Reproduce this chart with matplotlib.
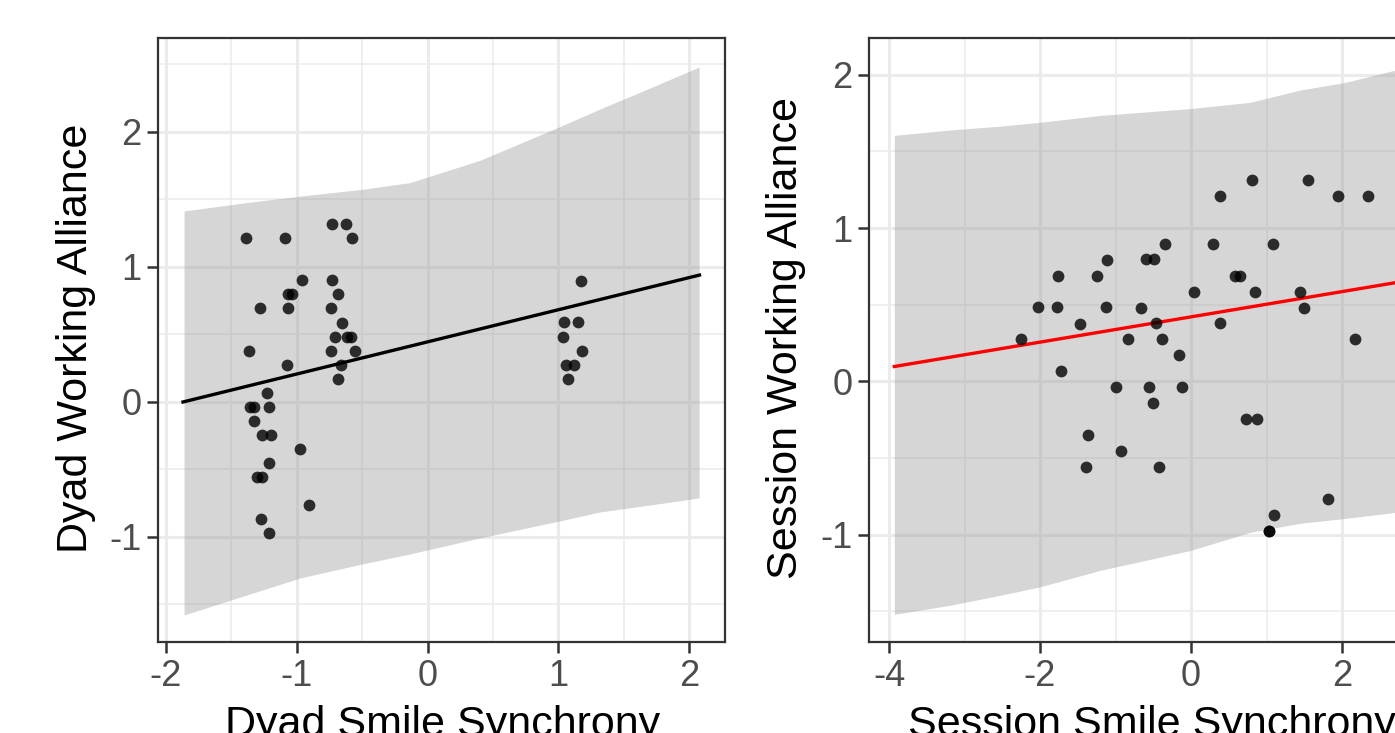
import numpy as np
import matplotlib
matplotlib.use("Agg")
import matplotlib.pyplot as plt
from matplotlib.ticker import MultipleLocator, FormatStrFormatter

plt.rcParams['font.family'] = ['Liberation Sans', 'DejaVu Sans']
plt.rcParams['axes.unicode_minus'] = False

# left panel: dyad level
dyad_x = [-1.386, -1.090, -0.733, -0.621, -0.575, -0.958, -0.733, -1.065, -1.039, -0.687,
          -1.281, -1.065, -0.738, -0.656, -0.707, -0.618, -0.585, -1.363, -0.738, -0.557,
          -1.077, -0.664, -0.687, -1.230, -1.358, -1.327, -1.212, -1.327, -1.263, -1.199,
          -0.975, -1.212, -1.302, -1.268, -0.904, -1.276, -1.212,
          1.174, 1.044, 1.153, 1.034, 1.182, 1.059, 1.120, 1.075]
dyad_y = [1.213, 1.213, 1.319, 1.319, 1.213, 0.901, 0.901, 0.798, 0.798, 0.798,
          0.694, 0.694, 0.694, 0.587, 0.484, 0.484, 0.484, 0.380, 0.380, 0.380,
          0.276, 0.276, 0.170, 0.069, -0.037, -0.037, -0.037, -0.139, -0.244, -0.244,
          -0.348, -0.454, -0.556, -0.556, -0.765, -0.869, -0.973,
          0.899, 0.590, 0.590, 0.484, 0.380, 0.274, 0.274, 0.173]
dyad_fit_x = [-1.87, 2.08]
dyad_fit_y = [0.0, 0.94]
dyad_band_x = [-1.862, -1.358, -0.975, -0.5, -0.134, 0.401, 1.013, 1.319, 1.702, 2.077]
dyad_band_hi = [1.415, 1.480, 1.525, 1.575, 1.625, 1.790, 2.040, 2.170, 2.326, 2.481]
dyad_band_lo = [-1.578, -1.422, -1.304, -1.200, -1.126, -1.007, -0.881, -0.815, -0.763, -0.711]

# right panel: session level
sess_x = [-1.109, -1.762, -1.245, -2.030, -1.779, -1.122, -1.470, -2.248, -0.830, -1.722,
          -0.993, -1.360, -0.927, -1.395, 0.808, 1.546, 0.380, 1.947, 2.344, -0.340,
          0.295, 1.090, -0.596, -0.490, 0.579, 0.649, 0.040, 0.848, 1.448, -0.662,
          1.493, -0.464, 0.388, -0.388, 2.168, -0.159, -0.560, -0.115, -0.499, 0.728,
          0.874, -0.420, 1.815, 1.099, 1.037, 1.037]
sess_y = [0.794, 0.690, 0.690, 0.483, 0.483, 0.483, 0.376, 0.274, 0.274, 0.065,
          -0.039, -0.352, -0.457, -0.559, 1.316, 1.316, 1.211, 1.211, 1.211, 0.898,
          0.898, 0.898, 0.796, 0.796, 0.690, 0.690, 0.585, 0.585, 0.585, 0.481,
          0.481, 0.378, 0.378, 0.274, 0.274, 0.170, -0.039, -0.039, -0.144, -0.248,
          -0.248, -0.561, -0.768, -0.872, -0.974, -0.974]
sess_fit_x = [-3.93, 3.0]
sess_fit_y = [0.097, 0.668]
sess_band_x = [-3.93, -3.19, -2.53, -2.0, -1.205, 0.0, 0.78, 1.44, 2.04, 2.70, 3.0]
sess_band_hi = [1.605, 1.640, 1.665, 1.690, 1.735, 1.780, 1.820, 1.900, 1.950, 2.030, 2.07]
sess_band_lo = [-1.520, -1.460, -1.396, -1.340, -1.233, -1.102, -0.985, -0.926, -0.894, -0.855, -0.84]

W, H = 1395, 733
fig = plt.figure(figsize=(W / 100, H / 100), dpi=100)

def panel(left_px, xlim, ylim, xmaj, ymaj):
    ax = fig.add_axes([left_px / W, (H - 642) / H, 567 / W, 604 / H])
    ax.set_xlim(*xlim)
    ax.set_ylim(*ylim)
    ax.xaxis.set_major_locator(MultipleLocator(xmaj))
    ax.xaxis.set_minor_locator(MultipleLocator(xmaj / 2))
    ax.yaxis.set_major_locator(MultipleLocator(ymaj))
    ax.yaxis.set_minor_locator(MultipleLocator(ymaj / 2))
    ax.xaxis.set_major_formatter(FormatStrFormatter('%d'))
    ax.yaxis.set_major_formatter(FormatStrFormatter('%d'))
    ax.set_axisbelow(True)
    ax.grid(which='major', color='#EBEBEB', lw=2.2)
    ax.grid(which='minor', color='#EBEBEB', lw=1.1)
    ax.tick_params(which='major', length=8, width=1.8, color='#333333',
                   labelsize=26, labelcolor='#4D4D4D', pad=4)
    ax.tick_params(which='minor', length=0)
    for s in ax.spines.values():
        s.set_color('#333333')
        s.set_linewidth(1.6)
    return ax

ax1 = panel(158, (-2.0612, 2.275), (-1.778, 2.696), 1, 1)
ax1.fill_between(dyad_band_x, dyad_band_lo, dyad_band_hi, color='#999999', alpha=0.4, lw=0, zorder=1)
ax1.plot(dyad_fit_x, dyad_fit_y, color='black', lw=2.4, zorder=2)
ax1.scatter(dyad_x, dyad_y, s=72, color='black', alpha=0.8, lw=0, zorder=3)

ax2 = panel(869, (-4.265, 3.245), (-1.70, 2.24), 2, 1)
ax2.fill_between(sess_band_x, sess_band_lo, sess_band_hi, color='#999999', alpha=0.4, lw=0, zorder=1)
ax2.plot(sess_fit_x, sess_fit_y, color='red', lw=2.4, zorder=2)
ax2.scatter(sess_x, sess_y, s=72, color='black', alpha=0.8, lw=0, zorder=3)

fig.text(76 / W, 1 - 338 / H, 'Dyad Working Alliance', rotation=90,
         ha='center', va='center', fontsize=31)
fig.text(786 / W, 1 - 338 / H, 'Session Working Alliance', rotation=90,
         ha='center', va='center', fontsize=31)
fig.text(443 / W, 1 - 705 / H, 'Dyad Smile Synchrony', ha='center', va='top', fontsize=31)
fig.text(1152 / W, 1 - 705 / H, 'Session Smile Synchrony', ha='center', va='top', fontsize=31)

fig.savefig('out.png', dpi=100)
